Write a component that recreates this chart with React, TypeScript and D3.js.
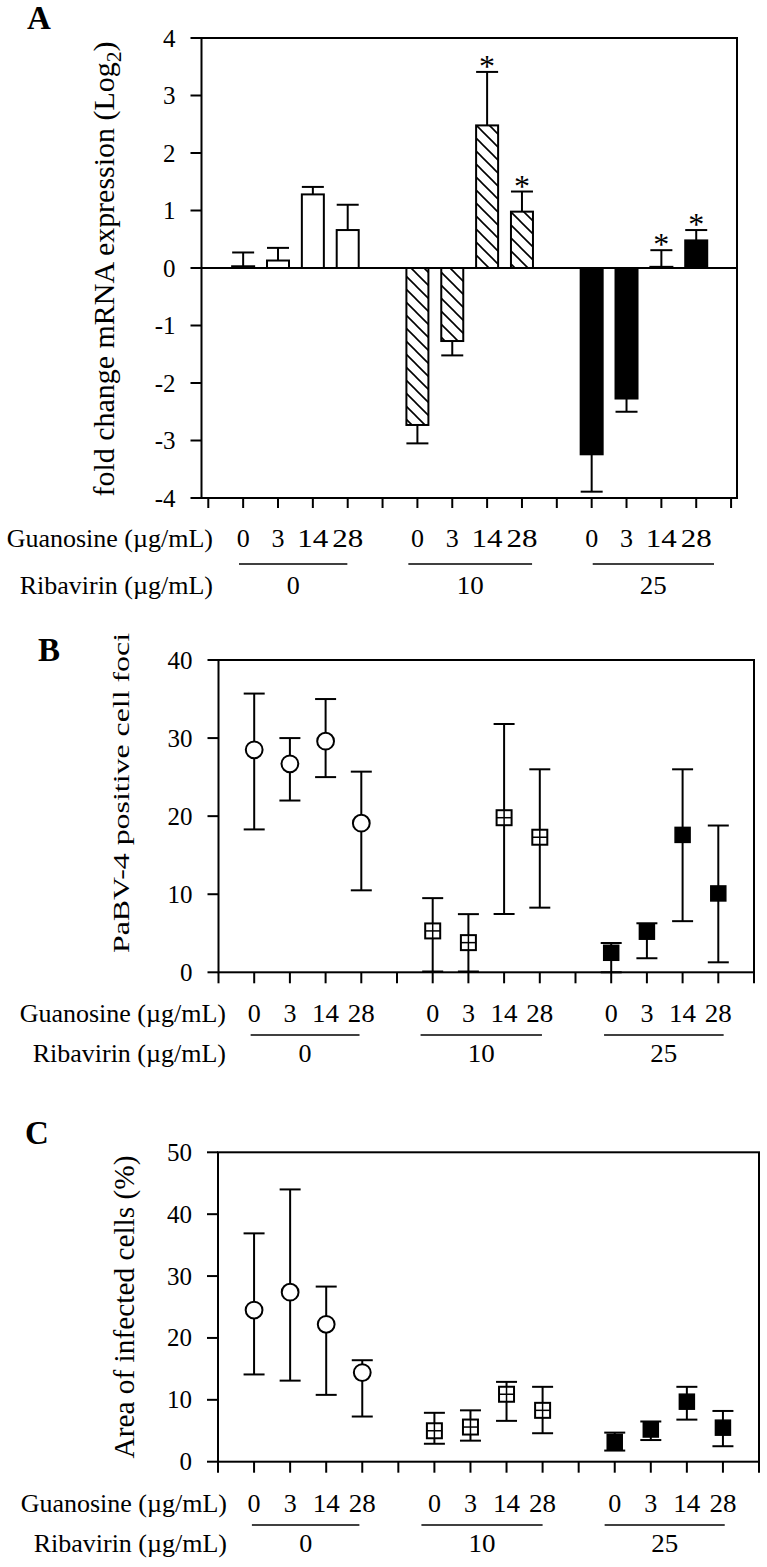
import React from "react";
import * as d3 from "d3";

// ---------- data ----------
const guanosine = ["0", "3", "14", "28"];
const ribavirin = ["0", "10", "25"];

// Panel A: fold change mRNA expression (Log2)
const foldMean = [0.03, 0.13, 1.28, 0.66, -2.73, -1.27, 2.48, 0.98, -3.24, -2.27, 0.02, 0.48];
const foldErr = [0.27, 0.35, 1.41, 1.1, -3.05, -1.52, 3.41, 1.33, -3.89, -2.5, 0.31, 0.66];
const foldSig = [false, false, false, false, false, false, true, true, false, false, true, true];
const yTicksA = [-4, -3, -2, -1, 0, 1, 2, 3, 4];

// Panel B: PaBV-4 positive cell foci
const fociMean = [28.5, 26.7, 29.6, 19.1, 5.3, 3.8, 19.8, 17.3, 2.5, 5.2, 17.6, 10.1];
const fociUpper = [35.7, 30.0, 35.0, 25.7, 9.5, 7.45, 31.8, 26.0, 3.75, 6.28, 26.0, 18.8];
const fociLower = [18.3, 22.0, 25.0, 10.5, 0.1, 0.1, 7.47, 8.28, 0, 1.8, 6.55, 1.28];
const yTicksB = [0, 10, 20, 30, 40];

// Panel C: Area of infected cells (%)
const areaMean = [24.5, 27.4, 22.2, 14.4, 5.0, 5.6, 10.9, 8.3, 3.2, 5.2, 9.7, 5.5];
const areaUpper = [36.9, 44.0, 28.3, 16.4, 7.9, 8.3, 12.9, 12.1, 4.7, 6.5, 12.1, 8.2];
const areaLower = [14.1, 13.1, 10.8, 7.3, 2.9, 3.4, 6.6, 4.6, 1.8, 3.5, 6.8, 2.5];
const yTicksC = [0, 10, 20, 30, 40, 50];

// ---------- layout ----------
const W = 767;
const H = 1567;
const FONT = "'Liberation Serif','Times New Roman',Times,serif";
const xTicks = d3.range(16);
const posOf = (i: number) => 1 + Math.floor(i / 4) * 5 + (i % 4);

type Lin = d3.ScaleLinear<number, number>;

function Frame({ x, y, yTicks, tickLen }: { x: Lin; y: Lin; yTicks: number[]; tickLen: number }) {
  const [x0, x1] = x.range();
  const [yb, yt] = y.range();
  return (
    <g>
      <rect x={x0} y={yt} width={x1 - x0} height={yb - yt} fill="none" stroke="#000" strokeWidth={2} />
      {yTicks.map((t) => (
        <g key={"yt" + t}>
          <line x1={x0 - 11} x2={x0} y1={y(t)} y2={y(t)} stroke="#000" strokeWidth={2} />
          <text x={x0 - 26} y={y(t)} dy="0.34em" textAnchor="end" fontSize={25} fontFamily={FONT}>
            {t}
          </text>
        </g>
      ))}
      {xTicks.map((t) => (
        <line key={"xt" + t} x1={x(t)} x2={x(t)} y1={yb} y2={yb + tickLen} stroke="#000" strokeWidth={2} />
      ))}
    </g>
  );
}

function Rows({
  x, baseG, lineY, baseR, rightX, spans, numLen,
}: {
  x: Lin; baseG: number; lineY: number; baseR: number; rightX: number; spans: number[][]; numLen: number;
}) {
  return (
    <g fontFamily={FONT} fontSize={26}>
      <text x={rightX} y={baseG} textAnchor="end">Guanosine (µg/mL)</text>
      <text x={rightX} y={baseR} textAnchor="end">Ribavirin (µg/mL)</text>
      {ribavirin.map((r, g) => (
        <g key={"g" + g}>
          {guanosine.map((s, j) => (
            <text
              key={s}
              x={x(1 + g * 5 + j)}
              y={baseG}
              textAnchor="middle"
              textLength={s.length > 1 ? numLen : undefined}
              lengthAdjust="spacingAndGlyphs"
            >
              {s}
            </text>
          ))}
          <line x1={x(spans[g][0])} x2={x(spans[g][1])} y1={lineY} y2={lineY} stroke="#000" strokeWidth={1.4} />
          <text
            x={(x(spans[g][0]) + x(spans[g][1])) / 2}
            y={baseR}
            textAnchor="middle"
            textLength={r.length > 1 ? 27 : undefined}
            lengthAdjust="spacingAndGlyphs"
          >
            {r}
          </text>
        </g>
      ))}
    </g>
  );
}

function Points({ x, y, mean, upper, lower }: { x: Lin; y: Lin; mean: number[]; upper: number[]; lower: number[] }) {
  const cap = 10.5;
  const s = 15;
  return (
    <g>
      {mean.map((m, i) => {
        const cx = x(posOf(i));
        return (
          <g key={"e" + i} stroke="#000" strokeWidth={2}>
            <line x1={cx} x2={cx} y1={y(lower[i])} y2={y(upper[i])} />
            <line x1={cx - cap} x2={cx + cap} y1={y(upper[i])} y2={y(upper[i])} />
            <line x1={cx - cap} x2={cx + cap} y1={y(lower[i])} y2={y(lower[i])} />
          </g>
        );
      })}
      {mean.map((m, i) => {
        const cx = x(posOf(i));
        const cy = y(m);
        const g = Math.floor(i / 4);
        if (g === 0)
          return <circle key={"m" + i} cx={cx} cy={cy} r={8.4} fill="#fff" stroke="#000" strokeWidth={2} />;
        if (g === 1)
          return (
            <g key={"m" + i} stroke="#000">
              <rect x={cx - s / 2} y={cy - s / 2} width={s} height={s} fill="#fff" strokeWidth={2} />
              <line x1={cx - s / 2} x2={cx + s / 2} y1={cy} y2={cy} strokeWidth={1.5} />
              <line x1={cx} x2={cx} y1={cy - s / 2} y2={cy + s / 2} strokeWidth={1.5} />
            </g>
          );
        return <rect key={"m" + i} x={cx - s / 2} y={cy - s / 2} width={s} height={s} fill="#000" stroke="#000" strokeWidth={1.5} />;
      })}
    </g>
  );
}

export default function App() {
  // Panel A scales
  const xA = d3.scaleLinear().domain([-0.195, 15.17]).range([201.5, 737]);
  const yA = d3.scaleLinear().domain([-4, 4]).range([498, 38]);
  // Panel B scales
  const xB = d3.scaleLinear().domain([0, 15]).range([218.5, 754]);
  const yB = d3.scaleLinear().domain([0, 40]).range([972.3, 660]);
  // Panel C scales
  const xC = d3.scaleLinear().domain([0, 15]).range([218, 759]);
  const yC = d3.scaleLinear().domain([0, 50]).range([1461.7, 1152.3]);

  const barW = 22;
  const fills = ["#fff", "url(#hatch)", "#000"];

  return (
    <svg
      width={W}
      height={H}
      viewBox={`0 0 ${W} ${H}`}
      style={{ position: "absolute", left: 0, top: 0, background: "#fff" }}
    >
      <defs>
        <pattern id="hatch" patternUnits="userSpaceOnUse" width={13} height={13}>
          <rect width={13} height={13} fill="#fff" />
          <path d="M-1,-1 L14,14 M-1,12 L1,14 M12,-1 L14,1" stroke="#000" strokeWidth={1.6} />
        </pattern>
      </defs>
      <rect width={W} height={H} fill="#fff" />

      {/* ---------- Panel A ---------- */}
      <text x={27} y={29} fontSize={33} fontWeight="bold" fontFamily={FONT}>A</text>
      <text
        transform={`translate(114,269) rotate(-90)`}
        textAnchor="middle"
        fontSize={29}
        fontFamily={FONT}
        textLength={455}
        lengthAdjust="spacingAndGlyphs"
      >
        <tspan>fold change mRNA expression (Log</tspan>
        <tspan dy={7} fontSize={21}>2</tspan>
        <tspan dy={-7}>)</tspan>
      </text>
      {foldMean.map((v, i) => {
        const cx = xA(posOf(i));
        const g = Math.floor(i / 4);
        const y0 = yA(Math.max(0, v));
        const h = Math.abs(yA(v) - yA(0));
        const ye = yA(foldErr[i]);
        return (
          <g key={"bar" + i}>
            <rect x={cx - barW / 2} y={y0} width={barW} height={h} fill={fills[g]} stroke="#000" strokeWidth={2} />
            <line x1={cx} x2={cx} y1={yA(v)} y2={ye} stroke="#000" strokeWidth={2} />
            <line x1={cx - barW / 2} x2={cx + barW / 2} y1={ye} y2={ye} stroke="#000" strokeWidth={2} />
            {foldSig[i] && (
              <text x={cx} y={ye + 5} textAnchor="middle" fontSize={32} fontFamily={FONT}>*</text>
            )}
          </g>
        );
      })}
      <line x1={xA.range()[0]} x2={xA.range()[1]} y1={yA(0)} y2={yA(0)} stroke="#000" strokeWidth={2.2} />
      <Frame x={xA} y={yA} yTicks={yTicksA} tickLen={10} />
      <Rows
        x={xA}
        baseG={547}
        lineY={564}
        baseR={594}
        rightX={213}
        spans={[[0.88, 3.99], [5.74, 9.29], [11.03, 14.51]]}
        numLen={31}
      />

      {/* ---------- Panel B ---------- */}
      <text x={38} y={661} fontSize={33} fontWeight="bold" fontFamily={FONT}>B</text>
      <text
        transform={`translate(129,793) rotate(-90)`}
        textAnchor="middle"
        fontSize={23.5}
        fontFamily={FONT}
        textLength={320}
        lengthAdjust="spacingAndGlyphs"
      >
        PaBV-4 positive cell foci
      </text>
      <Points x={xB} y={yB} mean={fociMean} upper={fociUpper} lower={fociLower} />
      <Frame x={xB} y={yB} yTicks={yTicksB} tickLen={11} />
      <Rows
        x={xB}
        baseG={1022}
        lineY={1035}
        baseR={1062}
        rightX={226}
        spans={[[0.9, 3.95], [5.66, 9.06], [10.8, 14.15]]}
        numLen={27}
      />

      {/* ---------- Panel C ---------- */}
      <text x={25} y={1144} fontSize={33} fontWeight="bold" fontFamily={FONT}>C</text>
      <text
        transform={`translate(133.5,1307) rotate(-90)`}
        textAnchor="middle"
        fontSize={29}
        fontFamily={FONT}
        textLength={303}
        lengthAdjust="spacingAndGlyphs"
      >
        Area of infected cells (%)
      </text>
      <Points x={xC} y={yC} mean={areaMean} upper={areaUpper} lower={areaLower} />
      <Frame x={xC} y={yC} yTicks={yTicksC} tickLen={11} />
      <Rows
        x={xC}
        baseG={1512}
        lineY={1525}
        baseR={1552}
        rightX={227}
        spans={[[0.94, 3.92], [5.64, 9.0], [10.72, 14.05]]}
        numLen={27}
      />
    </svg>
  );
}
